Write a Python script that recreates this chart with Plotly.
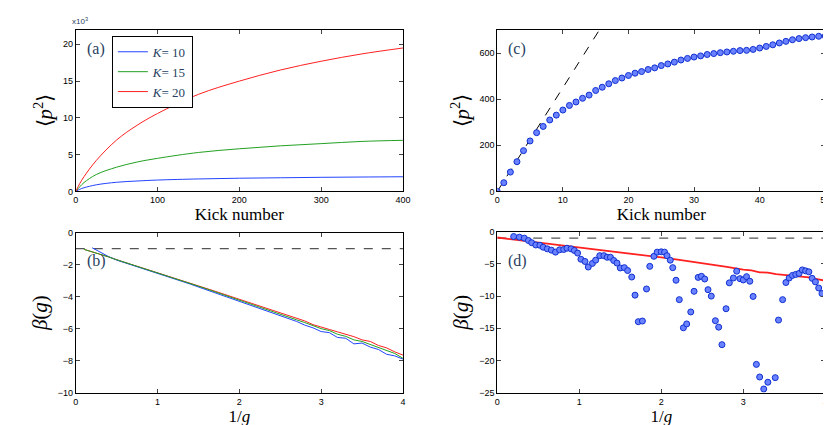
import plotly.graph_objects as go

# (a) <p^2> vs kick number, units of 1e3
kick_a = [0, 5, 10, 25, 50, 75, 100, 150, 200, 250, 300, 350, 400]
p2_k10 = [0, 0.3, 0.5, 0.9, 1.25, 1.42, 1.55, 1.7, 1.8, 1.86, 1.92, 1.96, 2.0]
p2_k15 = [0, 0.65, 1.2, 2.3, 3.3, 4.0, 4.5, 5.3, 5.8, 6.2, 6.5, 6.8, 6.95]
p2_k20 = [0, 1.1, 2.0, 4.2, 7.0, 9.0, 10.6, 13.2, 15.0, 16.5, 17.7, 18.7, 19.5]

# (b) beta(g) vs 1/g
inv_g_b = [0.1, 0.2, 0.3, 0.4, 0.5, 0.6, 0.7, 0.8, 0.9, 1.0, 1.1, 1.2, 1.3, 1.4, 1.5,
           1.6, 1.7, 1.8, 1.9, 2.0, 2.1, 2.2, 2.3, 2.4, 2.5, 2.6, 2.7, 2.8, 2.9, 3.0,
           3.1, 3.2, 3.3, 3.4, 3.5, 3.6, 3.7, 3.8, 3.9, 4.0]
beta_k10 = [None, -0.95, -1.25, -1.5, -1.72, -1.88, -2.05, -2.2, -2.37, -2.52, -2.7, -2.88, -3.05, -3.22, -3.4,
            -3.58, -3.76, -3.94, -4.12, -4.32, -4.48, -4.68, -4.85, -5.05, -5.2, -5.42, -5.55, -5.78, -5.95, -6.18,
            -6.25, -6.55, -6.6, -6.95, -6.9, -7.15, -7.3, -7.6, -7.7, -7.9]
beta_k15 = [-1.05, -1.2, -1.35, -1.52, -1.7, -1.86, -2.02, -2.18, -2.35, -2.5, -2.67, -2.84, -3.0, -3.18, -3.35,
            -3.52, -3.7, -3.87, -4.05, -4.22, -4.4, -4.58, -4.75, -4.93, -5.1, -5.28, -5.45, -5.62, -5.82, -6.0,
            -6.12, -6.35, -6.48, -6.7, -6.8, -7.0, -7.15, -7.4, -7.55, -7.85]
beta_k20 = [-1.05, -1.2, -1.35, -1.52, -1.7, -1.86, -2.02, -2.18, -2.34, -2.49, -2.65, -2.82, -2.98, -3.15, -3.32,
            -3.48, -3.66, -3.83, -4.0, -4.18, -4.35, -4.52, -4.7, -4.85, -5.02, -5.2, -5.35, -5.52, -5.75, -5.88,
            -6.05, -6.2, -6.35, -6.5, -6.7, -6.8, -7.05, -7.2, -7.45, -7.65]

# (c) <p^2> vs kick number
kick_c = list(range(51))
p2_c = [0, 38, 84, 129, 177, 219, 255, 282, 310, 331, 353, 373, 388, 404, 418, 438, 452, 467,
        481, 492, 503, 513, 520, 529, 536, 546, 553, 561, 570, 577, 583, 588, 594, 598, 602,
        605, 608, 611, 612, 616, 622, 629, 636, 644, 651, 658, 663, 667, 670, 673, 674]
lin_kick = [0, 15.6]
lin_p2 = [0, 702]

# (d) beta(g) single realisation and average
inv_g_d = [0.20, 0.27, 0.33, 0.38, 0.42, 0.47, 0.52, 0.56, 0.61, 0.66, 0.71, 0.76, 0.81, 0.85, 0.90,
           0.94, 0.98, 1.02, 1.07, 1.11, 1.16, 1.20, 1.25, 1.30, 1.34, 1.38, 1.42, 1.46, 1.50, 1.55,
           1.59, 1.64, 1.68, 1.72, 1.77, 1.82, 1.86, 1.91, 1.95, 2.00, 2.04, 2.07, 2.11, 2.14, 2.18,
           2.22, 2.27, 2.31, 2.36, 2.40, 2.45, 2.49, 2.53, 2.57, 2.61, 2.66, 2.70, 2.74, 2.79, 2.83,
           2.88, 2.92, 2.96, 3.00, 3.04, 3.08, 3.12, 3.16, 3.20, 3.25, 3.30, 3.39, 3.43, 3.48, 3.52,
           3.56, 3.60, 3.64, 3.68, 3.72, 3.76, 3.80, 3.84, 3.88, 3.92, 3.96]
beta_d = [-0.75, -0.85, -1.0, -1.36, -1.71, -2.06, -2.11, -2.41, -2.66, -2.86, -3.17, -2.81, -2.76, -2.56, -2.66,
          -2.91, -3.32, -4.27, -4.62, -5.48, -4.92, -4.42, -3.72, -3.72, -3.97, -3.97, -4.47, -4.87, -5.63, -5.58,
          -6.03, -7.04, -9.85, -13.97, -13.87, -8.89, -5.38, -3.82, -3.17, -3.12, -3.17, -3.72, -4.42, -5.58, -7.54,
          -10.55, -14.92, -14.32, -12.46, -9.25, -7.09, -6.93, -7.34, -9.0, -10.0, -13.82, -14.82, -17.54, -11.96, -7.94,
          -7.19, -6.13, -7.29, -7.49, -6.98, -7.69, -10.05, -20.6, -22.56, -24.42, -23.37, -22.66, -13.72, -10.55, -7.89,
          -7.19, -6.78, -6.63, -6.48, -5.93, -6.08, -6.23, -7.24, -7.79, -8.74, -9.6]
inv_g_avg = [0.0, 0.2, 0.4, 0.6, 0.8, 1.0, 1.2, 1.4, 1.6, 1.8, 2.0, 2.2, 2.4, 2.6, 2.8, 3.0,
             3.1, 3.2, 3.3, 3.4, 3.5, 3.6, 3.7, 3.8, 3.9, 4.0]
beta_avg = [-0.9, -1.2, -1.5, -1.8, -2.1, -2.4, -2.7, -3.05, -3.35, -3.7, -4.0, -4.35, -4.7, -5.0, -5.45, -5.9,
            -6.0, -6.3, -6.35, -6.6, -6.7, -6.85, -7.0, -7.1, -7.35, -7.6]

fig = go.Figure()

def add(x, y, xa, ya, **kw):
    fig.add_trace(go.Scatter(x=x, y=y, xaxis=xa, yaxis=ya, **kw))

blue, green, red = "#2244ff", "#22a022", "#ff2020"
add(kick_a, p2_k10, "x", "y", mode="lines", line=dict(color=blue, width=1, shape="spline"), name="<i>K</i>= 10")
add(kick_a, p2_k15, "x", "y", mode="lines", line=dict(color=green, width=1, shape="spline"), name="<i>K</i>= 15")
add(kick_a, p2_k20, "x", "y", mode="lines", line=dict(color=red, width=1, shape="spline"), name="<i>K</i>= 20")

add([0, 4], [-1, -1], "x2", "y2", mode="lines", line=dict(color="#555", width=1.2, dash="dash"), showlegend=False)
add(inv_g_b, beta_k20, "x2", "y2", mode="lines", line=dict(color=red, width=1), showlegend=False)
add(inv_g_b, beta_k10, "x2", "y2", mode="lines", line=dict(color=blue, width=1), showlegend=False)
add(inv_g_b, beta_k15, "x2", "y2", mode="lines", line=dict(color=green, width=1), showlegend=False)

add(lin_kick, lin_p2, "x3", "y3", mode="lines", line=dict(color="black", width=1, dash="dash"), showlegend=False)
add(kick_c, p2_c, "x3", "y3", mode="markers", showlegend=False,
    marker=dict(color="#6a82ff", size=6, line=dict(color="#1030d0", width=1)))

add([0, 4], [-1, -1], "x4", "y4", mode="lines", line=dict(color="#555", width=1.2, dash="dash"), showlegend=False)
add(inv_g_avg, beta_avg, "x4", "y4", mode="lines", line=dict(color=red, width=1.8), showlegend=False)
add(inv_g_d, beta_d, "x4", "y4", mode="markers", showlegend=False,
    marker=dict(color="#6a82ff", size=6, line=dict(color="#1030d0", width=1)))

tickfont = dict(family="Liberation Sans", size=9, color="black")
xtitle = dict(family="Liberation Serif", size=17, color="black")
ytitle = dict(family="Liberation Serif", size=21, color="black")
ax = dict(showline=True, mirror="ticks", linecolor="black", linewidth=1, ticks="inside",
          ticklen=4, showgrid=False, zeroline=False, tickfont=tickfont)
xa = dict(ax, title_font=xtitle, title_standoff=0)
ya = dict(ax, title_font=ytitle, title_standoff=4)

fig.update_layout(
    width=831, height=425, margin=dict(l=0, r=0, t=0, b=0),
    plot_bgcolor="white", paper_bgcolor="white",
    xaxis=dict(xa, domain=[0.079, 0.478], anchor="y", range=[0, 400], dtick=100, title_text="Kick number"),
    yaxis=dict(ya, domain=[0.57, 0.96], anchor="x", range=[0, 22], dtick=5,
               title_text="⟨<i>p</i><sup>2</sup>⟩"),
    xaxis2=dict(xa, domain=[0.079, 0.478], anchor="y2", range=[0, 4], dtick=1, title_text="1/<i>g</i>"),
    yaxis2=dict(ya, domain=[0.085, 0.471], anchor="x2", range=[-10, 0], dtick=2, title_text="<i>β</i>(<i>g</i>)"),
    xaxis3=dict(xa, domain=[0.593, 0.993], anchor="y3", range=[0, 50], dtick=10, title_text="Kick number"),
    yaxis3=dict(ya, domain=[0.57, 0.96], anchor="x3", range=[0, 702], dtick=200,
                title_text="⟨<i>p</i><sup>2</sup>⟩"),
    xaxis4=dict(xa, domain=[0.593, 0.993], anchor="y4", range=[0, 4], dtick=1, title_text="1/<i>g</i>"),
    yaxis4=dict(ya, domain=[0.085, 0.473], anchor="x4", range=[-25, 0], dtick=5, title_text="<i>β</i>(<i>g</i>)"),
    legend=dict(x=0.123, y=0.945, xanchor="left", yanchor="top", bgcolor="white",
                bordercolor="black", borderwidth=1, font=dict(family="Liberation Serif", size=13),
                tracegroupgap=0, itemwidth=30),
)

for txt, x, y in [("(a)", 0.09, 0.94), ("(b)", 0.09, 0.43), ("(c)", 0.604, 0.94), ("(d)", 0.604, 0.43)]:
    fig.add_annotation(text=txt, x=x, y=y, xref="paper", yref="paper", showarrow=False,
                       xanchor="left", yanchor="top", font=dict(family="Liberation Serif", size=16))
fig.add_annotation(text="x10<sup>3</sup>", x=0.072, y=0.965, xref="paper", yref="paper", showarrow=False,
                   xanchor="left", yanchor="bottom", font=dict(family="Liberation Sans", size=8))

fig.write_html("out.html")
